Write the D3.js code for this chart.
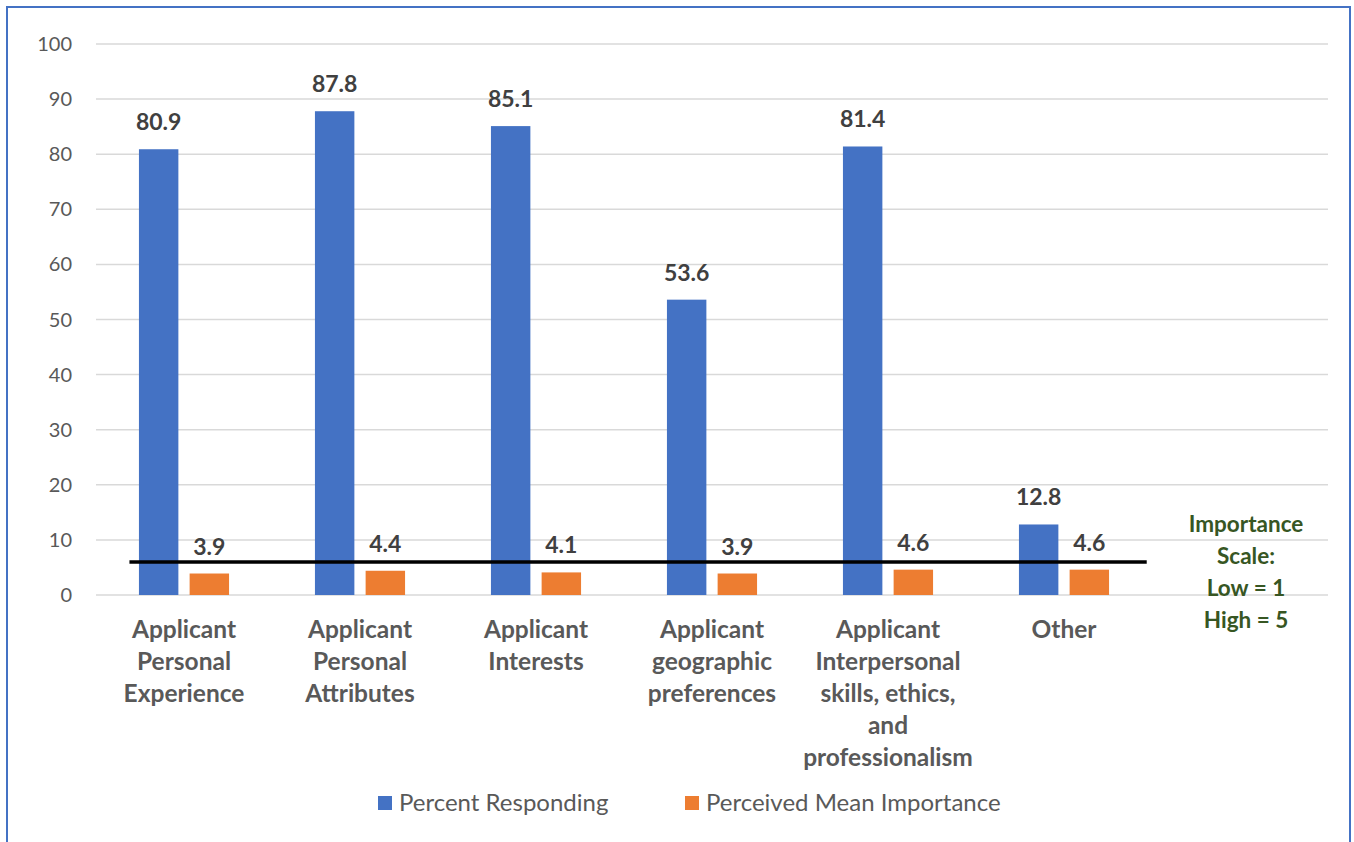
<!DOCTYPE html>
<html>
<head>
    <title>Applicant factors</title>
    <meta http-equiv="content-type" content="text/html; charset=UTF-8">
    <script type="text/javascript" src="https://cdn.jsdelivr.net/npm/d3@7"></script>
</head>
<body style="margin:0;background:#fff">

<style>
    text {
        font-family: Lato, "Open Sans", sans-serif;
    }
</style>

<script type="text/javascript">
    // chart data
    var categories = [
        ["Applicant", "Personal", "Experience"],
        ["Applicant", "Personal", "Attributes"],
        ["Applicant", "Interests"],
        ["Applicant", "geographic", "preferences"],
        ["Applicant", "Interpersonal", "skills, ethics,", "and", "professionalism"],
        ["Other"]
    ];
    var seriesNames = ["Percent Responding", "Perceived Mean Importance"];
    var percentResponding = [80.9, 87.8, 85.1, 53.6, 81.4, 12.8];
    var meanImportance = [3.9, 4.4, 4.1, 3.9, 4.6, 4.6];
    var yTicks = [0, 10, 20, 30, 40, 50, 60, 70, 80, 90, 100];
    var scaleNote = ["Importance", "Scale:", "Low = 1", "High = 5"];
    var referenceLine = 6;

    var colors = ["#4472C4", "#ED7D31"];
    var width = 1354, height = 842;

    var svg = d3.select("body").append("svg")
        .attr("width", width)
        .attr("height", height);

    // outer frame
    svg.append("rect")
        .attr("x", 7).attr("y", 7)
        .attr("width", 1343).attr("height", 850)
        .attr("fill", "none")
        .attr("stroke", "#4472C4")
        .attr("stroke-width", 2);

    // one extra empty slot on the right holds the importance note
    var keys = d3.range(categories.length + 1);
    var x = d3.scaleBand().domain(keys).range([96, 1328]);
    var bw = x.bandwidth();
    var x1 = d3.scaleBand().domain([0, 1])
        .range([bw * 0.244, bw * 0.756]).paddingInner(0.222);
    var y = d3.scaleLinear().domain([0, 100]).range([595, 44]);

    // gridlines and y labels
    svg.append("g").selectAll("line")
        .data(yTicks).enter().append("line")
        .attr("x1", 96).attr("x2", 1328)
        .attr("y1", function (d) { return y(d); })
        .attr("y2", function (d) { return y(d); })
        .attr("stroke", "#d9d9d9")
        .attr("stroke-width", 1.5);

    svg.append("g").selectAll("text")
        .data(yTicks).enter().append("text")
        .attr("x", 72)
        .attr("y", function (d) { return y(d); })
        .attr("dy", ".35em")
        .attr("text-anchor", "end")
        .attr("fill", "#595959")
        .style("font-size", "20px")
        .text(function (d) { return d; });

    var rows = categories.map(function (c, i) {
        return {i: i, vals: [percentResponding[i], meanImportance[i]]};
    });

    var group = svg.selectAll(".grp")
        .data(rows).enter().append("g")
        .attr("class", "grp")
        .attr("transform", function (d) { return "translate(" + x(d.i) + ",0)"; });

    group.selectAll("rect")
        .data(function (d) { return d.vals; })
        .enter().append("rect")
        .attr("x", function (d, j) { return x1(j); })
        .attr("width", x1.bandwidth())
        .attr("y", function (d) { return y(d); })
        .attr("height", function (d) { return y(0) - y(d); })
        .attr("fill", function (d, j) { return colors[j]; });

    group.selectAll(".lbl")
        .data(function (d) { return d.vals; })
        .enter().append("text")
        .attr("class", "lbl")
        .attr("x", function (d, j) { return x1(j) + x1.bandwidth() / 2; })
        .attr("y", function (d) { return y(d) - 19; })
        .attr("text-anchor", "middle")
        .attr("fill", "#404040")
        .style("font-size", "23px")
        .style("font-weight", "bold")
        .text(function (d) { return d.toFixed(1); });

    // reference line
    svg.append("line")
        .attr("x1", x(0) + bw * 0.19)
        .attr("x2", x(categories.length - 1) + bw * 0.97)
        .attr("y1", y(referenceLine))
        .attr("y2", y(referenceLine))
        .attr("stroke", "#000")
        .attr("stroke-width", 3.5);

    // category labels
    group.append("text")
        .attr("text-anchor", "middle")
        .attr("fill", "#595959")
        .style("font-size", "24.5px")
        .style("font-weight", "bold")
        .selectAll("tspan")
        .data(function (d) { return categories[d.i]; })
        .enter().append("tspan")
        .attr("x", bw / 2)
        .attr("y", function (d, k) { return 638 + k * 32; })
        .text(function (d) { return d; });

    // importance scale note
    svg.append("text")
        .attr("text-anchor", "middle")
        .attr("fill", "#375623")
        .style("font-size", "22.5px")
        .style("font-weight", "bold")
        .selectAll("tspan")
        .data(scaleNote).enter().append("tspan")
        .attr("x", x(categories.length) + bw / 2 + 6)
        .attr("y", function (d, k) { return 532 + k * 32; })
        .text(function (d) { return d; });

    // legend
    var legendX = [378, 685];
    var legend = svg.selectAll(".leg")
        .data(seriesNames).enter().append("g")
        .attr("class", "leg")
        .attr("transform", function (d, i) { return "translate(" + legendX[i] + ",796)"; });

    legend.append("rect")
        .attr("width", 14).attr("height", 14)
        .attr("fill", function (d, i) { return colors[i]; });

    legend.append("text")
        .attr("x", 21).attr("y", 7)
        .attr("dy", ".35em")
        .attr("fill", "#595959")
        .style("font-size", "24px")
        .text(function (d) { return d; });
</script>
</body>
</html>
